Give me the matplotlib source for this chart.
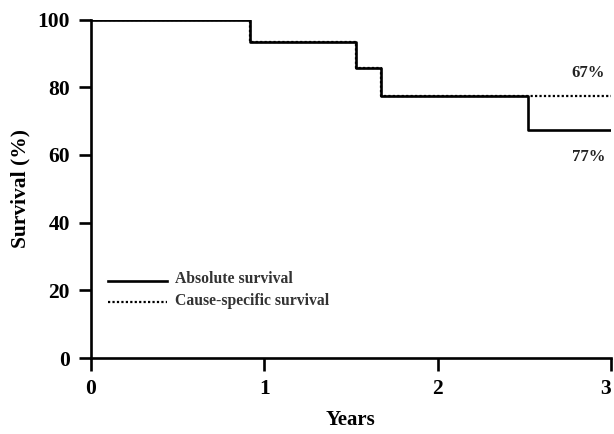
import matplotlib
matplotlib.use("Agg")
import matplotlib.pyplot as plt

# Data (Kaplan-Meier style step curves)
abs_times = [0, 0.92, 1.53, 1.675, 2.52, 3.0]
abs_surv = [100, 93.4, 85.7, 77.3, 67.5, 67.5]
cs_times = [0, 0.92, 1.53, 1.675, 3.0]
cs_surv = [100, 93.4, 85.7, 77.3, 77.3]
xticks = [0, 1, 2, 3]
yticks = [0, 20, 40, 60, 80, 100]
label_67 = "67%"
label_77 = "77%"

plt.rcParams['font.family'] = ['Liberation Serif', 'DejaVu Serif']
plt.rcParams['font.weight'] = 'bold'

fig = plt.figure(figsize=(6.14, 4.34), dpi=100)
ax = fig.add_axes([0.148, 0.175, 0.847, 0.78])

ax.step(cs_times, cs_surv, where='post', color='black', lw=1.6, ls=(0, (1, 1)))
ax.step(abs_times, abs_surv, where='post', color='black', lw=1.9)

ax.set_xlim(0, 3)
ax.set_ylim(0, 100)
ax.set_xticks(xticks)
ax.set_yticks(yticks)
ax.tick_params(direction='out', length=9, width=1.9, labelsize=15.5, pad=6)
for lab in ax.get_xticklabels() + ax.get_yticklabels():
    lab.set_fontweight('bold')
ax.get_xticklabels()[-1].set_horizontalalignment('right')
for s in ['top', 'right']:
    ax.spines[s].set_visible(False)
for s in ['left', 'bottom']:
    ax.spines[s].set_linewidth(1.9)

ax.set_xlabel('Years', fontsize=15, fontweight='bold', labelpad=8)
ax.set_ylabel('Survival (%)', fontsize=15.5, fontweight='bold', labelpad=5)

ax.text(2.87, 84.3, label_67, fontsize=12, fontweight='bold', ha='center', va='center', color='#222222')
ax.text(2.87, 59.5, label_77, fontsize=12, fontweight='bold', ha='center', va='center', color='#222222')

# legend drawn manually
ax.plot([0.1, 0.44], [22.9, 22.9], color='black', lw=1.9, clip_on=False)
ax.plot([0.1, 0.44], [16.7, 16.7], color='black', lw=1.6, ls=(0, (1, 1)), clip_on=False)
ax.text(0.485, 23.3, 'Absolute survival', fontsize=11.3, fontweight='bold', va='center', color='#333333')
ax.text(0.485, 16.9, 'Cause-specific survival', fontsize=11.3, fontweight='bold', va='center', color='#333333')

fig.savefig('out.png', dpi=100)
